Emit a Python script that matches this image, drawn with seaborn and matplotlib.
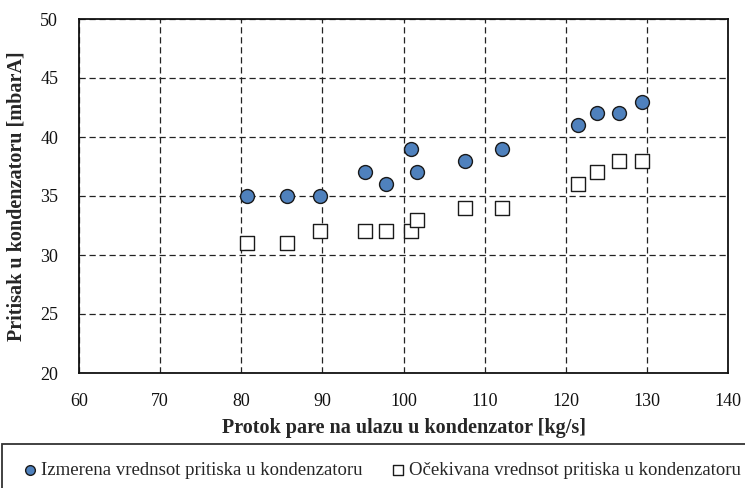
import matplotlib
matplotlib.use("Agg")
import matplotlib.pyplot as plt
from matplotlib.patches import Rectangle
import seaborn as sns
import pandas as pd

flow = [80.7, 85.6, 89.7, 95.3, 97.9, 100.9, 101.7, 107.6, 112.2, 121.5, 123.8, 126.6, 129.4]
measured = [35, 35, 35, 37, 36, 39, 37, 38, 39, 41, 42, 42, 43]
expected = [31, 31, 32, 32, 32, 32, 33, 34, 34, 36, 37, 38, 38]
label_meas = "Izmerena vrednsot pritiska u kondenzatoru"
label_exp = "Očekivana vrednsot pritiska u kondenzatoru"
x_ticks = [60, 70, 80, 90, 100, 110, 120, 130, 140]
y_ticks = [20, 25, 30, 35, 40, 45, 50]

sns.set_style("white")
plt.rcParams['font.family'] = ['Liberation Serif', 'DejaVu Serif']

df_meas = pd.DataFrame({"x": flow, "y": measured})
df_exp = pd.DataFrame({"x": flow, "y": expected})

W, H = 745, 488
fig = plt.figure(figsize=(W / 100, H / 100), dpi=100)
ax = fig.add_axes([79 / W, 1 - 373 / H, (728 - 79) / W, (373 - 19) / H])

sns.scatterplot(data=df_meas, x="x", y="y", ax=ax, marker="o",
                s=100, color="#4F81BD", edgecolor="#1a1a1a", linewidth=1.0,
                label=label_meas, zorder=3)
sns.scatterplot(data=df_exp, x="x", y="y", ax=ax, marker="s",
                s=100, color="white", edgecolor="#1a1a1a", linewidth=1.0,
                label=label_exp, zorder=3)

ax.set_xlim(x_ticks[0], x_ticks[-1])
ax.set_ylim(y_ticks[0], y_ticks[-1])
ax.set_xticks(x_ticks)
ax.set_yticks(y_ticks)
ax.grid(True, color="#222222", linestyle=(0, (5.0, 3.0)), linewidth=0.9)
for sp in ax.spines.values():
    sp.set_color("#111111")
    sp.set_linewidth(1.3)
ax.tick_params(axis="y", labelsize=13, colors="#111111", direction="out", length=5, width=1.2, pad=10)
ax.tick_params(axis="x", labelsize=13, colors="#111111", direction="inout", length=9, width=1.2, pad=10)
ax.set_xlabel("Protok pare na ulazu u kondenzator [kg/s]", fontsize=14.5, fontweight="bold", labelpad=6)
ax.set_ylabel("Pritisak u kondenzatoru [mbarA]", fontsize=14.5, fontweight="bold", labelpad=10)

h, l = ax.get_legend_handles_labels()
ax.get_legend().remove()

# legend frame: top edge at y=444 px, left edge near x=2 px, extends past the canvas
top = 1 - 444 / H
fig.patches.append(Rectangle((1.5 / W, -0.05), 1.1, top + 0.05,
                             transform=fig.transFigure, fill=False,
                             edgecolor="#333333", linewidth=1.3, clip_on=False))
leg = fig.legend(h, l, loc="center left", bbox_to_anchor=(24 / W, 1 - 470 / H), ncol=2,
                 fontsize=13.5, frameon=False, handlelength=0.6,
                 handletextpad=0.3, columnspacing=1.6, markerscale=0.7,
                 borderpad=0.0, borderaxespad=0.0)

fig.savefig("out.png", dpi=100)
